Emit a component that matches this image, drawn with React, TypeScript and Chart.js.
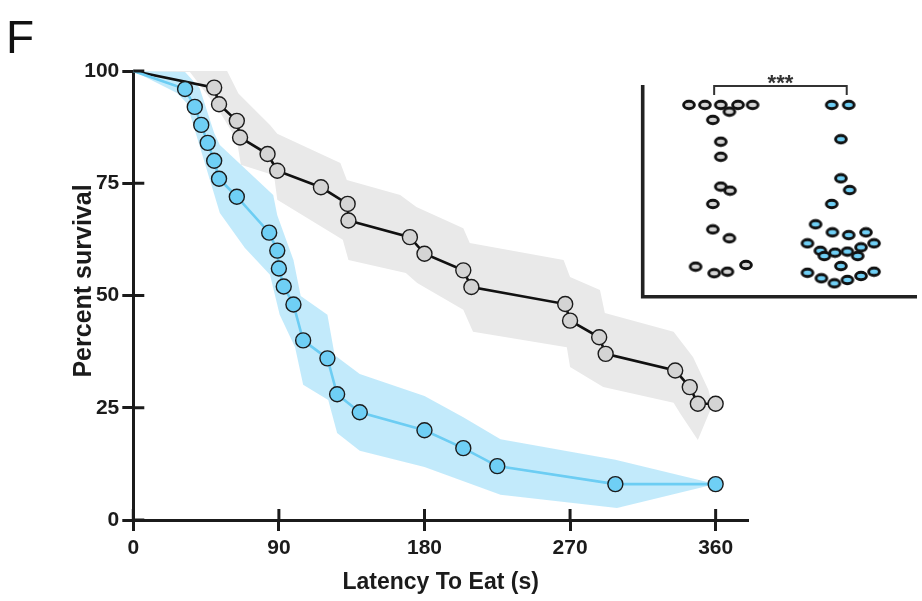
import React, { useEffect, useRef } from "react";
import { Chart, registerables } from "chart.js";

Chart.register(...registerables);

// ---------- data ----------
const xTickValues = [0, 90, 180, 270, 360];
const yTickValues = [0, 25, 50, 75, 100];
const xTitle = "Latency To Eat (s)";
const yTitle = "Percent survival";
const panelLetter = "F";
const sigLabel = "***";

// control group (grey) Kaplan–Meier points
const grayTimes = [0, 50, 53, 64, 66, 83, 89, 116, 132.5, 133, 171, 180, 204, 209, 267, 270, 288, 292, 335, 344, 349, 360];
const graySurv = [100, 96.3, 92.6, 88.9, 85.2, 81.5, 77.8, 74.1, 70.4, 66.7, 63.0, 59.3, 55.6, 51.9, 48.1, 44.4, 40.7, 37.0, 33.3, 29.6, 25.9, 25.9];

// treated group (blue) Kaplan–Meier points
const blueTimes = [0, 32, 38, 42, 46, 50, 53, 64, 84, 89, 90, 93, 99, 105, 120, 126, 140, 180, 204, 225, 298, 360];
const blueSurv = [100, 96, 92, 88, 84, 80, 76, 72, 64, 60, 56, 52, 48, 40, 36, 28, 24, 20, 16, 12, 8, 8];

// confidence bands
const grayUpperT = [0, 58, 65, 84.5, 89, 128, 132, 165, 175, 204, 208, 266, 270, 288.5, 291.5, 334, 346, 355.5, 358];
const grayUpperV = [100, 100, 95, 88, 86, 79.5, 75.7, 72.4, 69.7, 65, 61.7, 57.9, 54.1, 51.2, 46.1, 41.9, 36.3, 29, 25.6];
const grayLowerT = [0, 35, 52.5, 64, 66.5, 87, 89, 129.5, 133, 168.5, 175.5, 204, 210, 268, 270, 290.5, 334, 338, 349, 358];
const grayLowerV = [100, 99.8, 91.5, 84.6, 79.1, 76.8, 71.3, 62.4, 57.9, 55, 52.8, 46.8, 41.9, 38.5, 34.1, 29.6, 26.1, 23.8, 17.8, 25.6];

const blueUpperT = [0, 32, 41, 50, 53.5, 86.5, 89, 99, 103.5, 120, 124.5, 140, 180, 204, 227, 298, 360];
const blueUpperV = [100, 99.8, 96.2, 86.2, 83.5, 72.4, 67.9, 57.9, 49.9, 45.7, 36.7, 32.5, 27.6, 22.9, 18, 13.4, 8];
const blueLowerT = [0, 27, 33, 53.5, 69, 84.5, 90.5, 100, 105, 120.5, 126, 140, 180, 227, 299, 360];
const blueLowerV = [100, 95.1, 92.9, 68.4, 60.6, 54.6, 45.7, 38.5, 30.1, 26.7, 19.4, 15.4, 11.8, 5.6, 2.7, 8];

// inset scatter (group 1 = grey, group 2 = blue); x = jitter offset from group centre
const insetGroups = [1, 2];
const insetGrayOffset = [-0.19, -0.07, 0.05, 0.18, 0.29, 0.115, -0.01, 0.05, 0.05, 0.05, 0.12, -0.01, -0.01, 0.115, -0.14, 0, 0.1, 0.24];
const insetGrayValue = [90.6, 90.6, 90.6, 90.6, 90.6, 87.4, 83.5, 73.2, 66.1, 52, 50.1, 43.8, 31.8, 27.6, 14.2, 11.1, 11.8, 15.0];
const insetBlueOffset = [-0.113, 0.015, -0.044, -0.044, 0.022, -0.113, -0.235, -0.108, 0.015, 0.145, -0.296, -0.199, -0.169, -0.088, 0.005, 0.083, 0.108, 0.206, -0.044, -0.296, -0.191, -0.093, 0.005, 0.108, 0.206];
const insetBlueValue = [90.6, 90.6, 74.4, 55.9, 50.4, 43.8, 34.2, 30.4, 29.1, 30.4, 25.2, 21.7, 19.2, 20.8, 21.3, 19.2, 23.3, 25.2, 14.5, 11.3, 8.7, 6.3, 7.9, 9.8, 11.8];
const bracketValue = 99.5;
const bracketTickValue = 95.3;

// ---------- styles ----------
const FONT = "'Liberation Sans', Arial, Helvetica, sans-serif";
const INK = "#1b1b1b";
const BLUE_LINE = "#6ccdf3";
const BLUE_FILL = "#6fcff5";
const BLUE_BAND = "rgba(110,205,245,0.42)";
const GRAY_FILL = "#d4d4d4";
const GRAY_BAND = "#e9e9e9";

function xy(ts: number[], vs: number[]) {
  return ts.map((t, i) => ({ x: t, y: vs[i] }));
}

function ellipseMarker(fill: string): HTMLCanvasElement {
  const c = document.createElement("canvas");
  c.width = 16;
  c.height = 12;
  const g = c.getContext("2d")!;
  g.beginPath();
  g.ellipse(8, 6, 5.4, 3.7, 0, 0, Math.PI * 2);
  g.fillStyle = fill;
  g.fill();
  g.lineWidth = 2.9;
  g.strokeStyle = "#111111";
  g.stroke();
  return c;
}

export default function App() {
  const mainRef = useRef<HTMLCanvasElement>(null);
  const insetRef = useRef<HTMLCanvasElement>(null);

  useEffect(() => {
    document.body.style.margin = "0";
    document.body.style.overflow = "hidden";

    const crossTicks = {
      id: "crossTicks",
      afterDraw(chart: any) {
        const { ctx, chartArea } = chart;
        const xs = chart.scales.x;
        const ys = chart.scales.y;
        ctx.save();
        ctx.strokeStyle = INK;
        ctx.lineWidth = 3;
        for (const t of xTickValues) {
          const px = xs.getPixelForValue(t);
          ctx.beginPath();
          ctx.moveTo(px, chartArea.bottom);
          ctx.lineTo(px, chartArea.bottom - 11);
          ctx.stroke();
        }
        for (const t of yTickValues) {
          const py = ys.getPixelForValue(t);
          ctx.beginPath();
          ctx.moveTo(chartArea.left, py);
          ctx.lineTo(chartArea.left + 11, py);
          ctx.stroke();
        }
        ctx.fillStyle = INK;
        ctx.textAlign = "center";
        ctx.textBaseline = "alphabetic";
        ctx.font = `bold 23px ${FONT}`;
        ctx.fillText(xTitle, (chartArea.left + chartArea.right) / 2, 589);
        ctx.translate(90.5, 281);
        ctx.rotate(-Math.PI / 2);
        ctx.font = `bold 25px ${FONT}`;
        ctx.fillText(yTitle, 0, 0);
        ctx.restore();
      },
    };

    const tickFont = { family: FONT, size: 21, weight: "bold" as const };
    const gridOpts = {
      display: true,
      drawOnChartArea: false,
      drawTicks: true,
      tickLength: 11,
      tickWidth: 3,
      tickColor: INK,
      color: INK,
    };

    const main = new Chart(mainRef.current!, {
      type: "line",
      data: {
        datasets: [
          {
            label: "Treated",
            data: xy(blueTimes, blueSurv),
            borderColor: BLUE_LINE,
            borderWidth: 2.6,
            pointRadius: blueTimes.map((_, i) => (i === 0 ? 0 : 7.5)),
            pointBackgroundColor: BLUE_FILL,
            pointBorderColor: INK,
            pointBorderWidth: 1.4,
            fill: false,
            tension: 0,
            clip: false as any,
          },
          {
            label: "Control",
            data: xy(grayTimes, graySurv),
            borderColor: "#111111",
            borderWidth: 2.6,
            pointRadius: grayTimes.map((_, i) => (i === 0 ? 0 : 7.5)),
            pointBackgroundColor: GRAY_FILL,
            pointBorderColor: INK,
            pointBorderWidth: 1.4,
            fill: false,
            tension: 0,
            clip: false as any,
          },
          {
            label: "Treated upper",
            data: xy(blueUpperT, blueUpperV),
            borderColor: "rgba(0,0,0,0)",
            borderWidth: 0,
            pointRadius: 0,
            backgroundColor: BLUE_BAND,
            fill: "+1",
            tension: 0,
          },
          {
            label: "Treated lower",
            data: xy(blueLowerT, blueLowerV),
            borderColor: "rgba(0,0,0,0)",
            borderWidth: 0,
            pointRadius: 0,
            fill: false,
            tension: 0,
          },
          {
            label: "Control upper",
            data: xy(grayUpperT, grayUpperV),
            borderColor: "rgba(0,0,0,0)",
            borderWidth: 0,
            pointRadius: 0,
            backgroundColor: GRAY_BAND,
            fill: "+1",
            tension: 0,
          },
          {
            label: "Control lower",
            data: xy(grayLowerT, grayLowerV),
            borderColor: "rgba(0,0,0,0)",
            borderWidth: 0,
            pointRadius: 0,
            fill: false,
            tension: 0,
          },
        ],
      },
      options: {
        animation: false,
        responsive: false,
        events: [],
        layout: { padding: { top: 71, right: 174, left: 0, bottom: 0 } },
        plugins: {
          legend: { display: false },
          tooltip: { enabled: false },
          filler: { propagate: false, drawTime: "beforeDatasetsDraw" } as any,
        },
        scales: {
          x: {
            type: "linear",
            min: 0,
            max: 380,
            afterFit: (s: any) => {
              s.height = 81;
            },
            afterBuildTicks: (s: any) => {
              s.ticks = xTickValues.map((v) => ({ value: v }));
            },
            grid: gridOpts,
            border: { display: true, color: INK, width: 3 },
            ticks: { font: tickFont, color: INK, padding: 5, maxRotation: 0, autoSkip: false },
          },
          y: {
            type: "linear",
            min: 0,
            max: 100,
            afterFit: (s: any) => {
              s.width = 133.3;
            },
            afterBuildTicks: (s: any) => {
              s.ticks = yTickValues.map((v) => ({ value: v }));
            },
            grid: gridOpts,
            border: { display: true, color: INK, width: 3 },
            ticks: { font: tickFont, color: INK, padding: 3, autoSkip: false },
          },
        },
      },
      plugins: [crossTicks],
    });

    const insetDecor = {
      id: "insetDecor",
      afterDraw(chart: any) {
        const { ctx, chartArea } = chart;
        const xs = chart.scales.x;
        const ys = chart.scales.y;
        ctx.save();
        ctx.strokeStyle = "#222222";
        ctx.lineWidth = 3.6;
        ctx.beginPath();
        ctx.moveTo(chartArea.left, chartArea.top);
        ctx.lineTo(chartArea.left, chartArea.bottom);
        ctx.lineTo(chartArea.right + 2, chartArea.bottom);
        ctx.stroke();
        // significance bracket
        const x1 = xs.getPixelForValue(insetGroups[0]);
        const x2 = xs.getPixelForValue(insetGroups[1]);
        const yb = ys.getPixelForValue(bracketValue);
        const yt = ys.getPixelForValue(bracketTickValue);
        ctx.lineWidth = 2;
        ctx.strokeStyle = "#333333";
        ctx.beginPath();
        ctx.moveTo(x1, yt);
        ctx.lineTo(x1, yb);
        ctx.lineTo(x2, yb);
        ctx.lineTo(x2, yt);
        ctx.stroke();
        ctx.fillStyle = "#333333";
        ctx.textAlign = "center";
        ctx.textBaseline = "alphabetic";
        ctx.font = `bold 22px ${FONT}`;
        ctx.fillText(sigLabel, (x1 + x2) / 2, yb + 3.5);
        ctx.restore();
      },
    };

    const grayMarker = ellipseMarker(GRAY_FILL);
    const blueMarker = ellipseMarker(BLUE_FILL);

    const inset = new Chart(insetRef.current!, {
      type: "scatter",
      data: {
        datasets: [
          {
            label: "Control",
            data: insetGrayOffset.map((o, i) => ({ x: insetGroups[0] + o, y: insetGrayValue[i] })),
            pointStyle: grayMarker as any,
            pointRadius: 6,
          },
          {
            label: "Treated",
            data: insetBlueOffset.map((o, i) => ({ x: insetGroups[1] + o, y: insetBlueValue[i] })),
            pointStyle: blueMarker as any,
            pointRadius: 6,
          },
        ],
      },
      options: {
        animation: false,
        responsive: false,
        events: [],
        layout: { padding: { left: 10.7, right: 0, top: 25, bottom: 8.3 } },
        plugins: { legend: { display: false }, tooltip: { enabled: false } },
        scales: {
          x: { type: "linear", min: 0.461, max: 2.515, display: false },
          y: { type: "linear", min: 0, max: 100, display: false },
        },
      },
      plugins: [insetDecor],
    });

    return () => {
      main.destroy();
      inset.destroy();
    };
  }, []);

  return (
    <div style={{ position: "relative", width: 922, height: 601, background: "#ffffff", overflow: "hidden" }}>
      <canvas ref={mainRef} width={922} height={601} style={{ position: "absolute", left: 0, top: 0, width: 922, height: 601 }} />
      <canvas ref={insetRef} width={290} height={245} style={{ position: "absolute", left: 632, top: 60, width: 290, height: 245 }} />
      <div
        style={{
          position: "absolute",
          left: 6,
          top: 14,
          fontFamily: FONT,
          fontSize: 46,
          lineHeight: "46px",
          color: "#111111",
        }}
      >
        {panelLetter}
      </div>
    </div>
  );
}
